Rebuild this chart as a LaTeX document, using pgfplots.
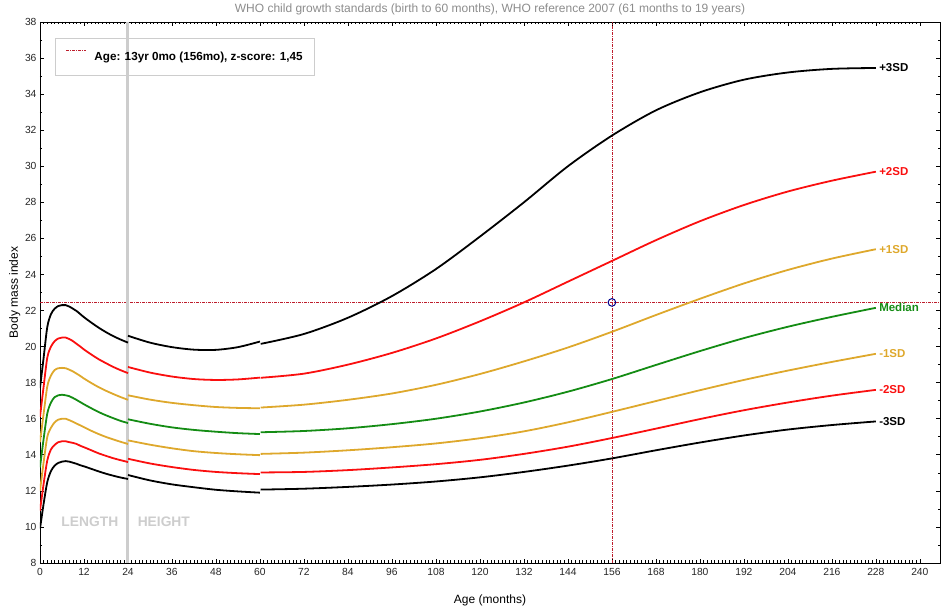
\documentclass[border=0pt]{standalone}
\usepackage{fontspec}
\setmainfont{Liberation Sans}
\usepackage{pgfplots}
\usepackage{pgfplotstable}
\pgfplotsset{compat=1.18}

\definecolor{zgold}{RGB}{222,168,44}
\definecolor{zgreen}{RGB}{20,140,20}
\definecolor{zred}{RGB}{250,15,15}
\definecolor{refred}{RGB}{190,30,45}
\definecolor{lgray}{RGB}{205,205,205}

% WHO BMI-for-age, boys: birth to 24 months (length)
\pgfplotstableread{
m  n3    n2    n1    med   p1    p2    p3
0  9.9   10.9  12.0  13.3  14.7  16.1  17.7
1  11.3  12.4  13.6  14.9  16.3  17.8  19.4
2  12.5  13.7  15.0  16.3  17.8  19.4  21.1
3  13.1  14.3  15.5  16.9  18.4  20.0  21.8
4  13.4  14.55 15.8  17.2  18.7  20.3  22.1
5  13.55 14.7  15.95 17.3  18.8  20.45 22.25
6  13.62 14.75 16.0  17.33 18.82 20.5  22.3
7  13.65 14.75 16.0  17.3  18.8  20.5  22.3
8  13.62 14.7  15.92 17.25 18.72 20.42 22.22
9  13.56 14.66 15.83 17.15 18.62 20.3  22.1
10 13.5  14.6  15.73 17.04 18.5  20.15 21.97
11 13.42 14.5  15.63 16.92 18.37 20.0  21.8
12 13.36 14.42 15.53 16.8  18.23 19.84 21.63
14 13.22 14.25 15.33 16.58 17.98 19.56 21.33
16 13.08 14.08 15.15 16.37 17.75 19.3  21.05
18 12.95 13.94 14.99 16.19 17.55 19.08 20.8
20 12.84 13.81 14.85 16.03 17.37 18.87 20.58
22 12.74 13.7  14.72 15.88 17.2  18.69 20.39
24 12.66 13.6  14.6  15.76 17.05 18.53 20.22
}\segA

% WHO BMI-for-age, boys: 24 to 60 months (height)
\pgfplotstableread{
m  n3    n2    n1    med   p1    p2    p3
24 12.88 13.78 14.8  15.97 17.3  18.87 20.6
30 12.58 13.52 14.56 15.72 17.06 18.56 20.22
36 12.36 13.32 14.36 15.52 16.88 18.34 19.97
42 12.2  13.16 14.2  15.38 16.75 18.2  19.83
48 12.06 13.05 14.1  15.28 16.65 18.15 19.82
54 11.97 12.98 14.03 15.2  16.6  18.18 19.97
60 11.9  12.93 13.98 15.15 16.58 18.28 20.28
}\segB

% WHO reference 2007, boys: 61 months to 19 years
\pgfplotstableread{
m   n3    n2    n1    med   p1    p2    p3
60.2 12.07 13.02 14.05 15.25 16.62 18.27 20.15
72  12.12 13.05 14.12 15.32 16.78 18.5  20.7
84  12.22 13.15 14.25 15.47 17.05 19.0  21.6
96  12.35 13.3  14.42 15.7  17.4  19.65 22.8
108 12.52 13.48 14.63 16.0  17.88 20.45 24.3
120 12.75 13.72 14.92 16.4  18.48 21.4  26.1
132 13.05 14.05 15.3  16.9  19.18 22.45 28.0
144 13.4  14.45 15.8  17.5  19.95 23.6  30.0
156 13.8  14.93 16.38 18.2  20.82 24.75 31.7
168 14.25 15.45 16.98 18.98 21.75 25.9  33.1
180 14.68 15.98 17.58 19.75 22.65 26.95 34.1
192 15.07 16.47 18.15 20.47 23.5  27.85 34.8
204 15.4  16.9  18.67 21.1  24.25 28.6  35.2
216 15.65 17.28 19.15 21.65 24.88 29.2  35.4
228 15.85 17.6  19.6  22.15 25.4  29.7  35.45
}\segC

\begin{document}
\begin{tikzpicture}
\begin{axis}[
    scale only axis,
    width=900pt, height=541pt,
    xmin=0, xmax=245.5, ymin=8, ymax=38,
    xtick={0,12,...,240}, ytick={8,10,...,38},
    minor x tick num=11, minor y tick num=1,
    major tick length=4pt, minor tick length=2.5pt,
    tick style={black, line width=0.6pt},
    axis line style={black, line width=0.8pt},
    /pgf/number format/assume math mode=true,
    ticklabel style={font=\fontsize{10.3}{12}\selectfont, text=black!85},
    xticklabel style={yshift=-2pt},
    title={WHO child growth standards (birth to 60 months), WHO reference 2007 (61 months to 19 years)},
    title style={font=\fontsize{12}{14}\selectfont, text=black!45, at={(0.5,1)}, anchor=south, yshift=0pt, inner sep=1pt},
    xlabel={Age (months)},
    xlabel style={font=\fontsize{12}{14}\selectfont, at={(axis description cs:0.5,0)}, anchor=north, yshift=-28pt},
    ylabel={Body mass index},
    ylabel style={font=\fontsize{12}{14}\selectfont, at={(axis description cs:0,0.5)}, anchor=south, yshift=16pt},
    legend style={at={(axis description cs:0.0167,0.97)}, anchor=north west, draw=lgray, line width=1.2pt, fill=none, font=\bfseries\fontsize{11.7}{14}\selectfont, inner xsep=10pt, inner ysep=11pt, /tikz/every odd column/.append style={column sep=6pt}},
    legend cell align=left,
    legend image code/.code={\draw[#1, line width=0.8pt] (0pt,7pt) -- (20pt,7pt);},
    curve/.style={line width=1.8pt, smooth},
]
% reference lines for the child
\addplot[refred, line width=0.8pt, dash pattern=on 3pt off 1pt on 1pt off 1pt] coordinates {(0,22.45) (245.5,22.45)};
\addlegendentry{Age: 13yr 0mo (156mo), z-score: 1,45}
\addplot[refred, line width=0.8pt, dash pattern=on 3pt off 1pt on 1pt off 1pt] coordinates {(156,8) (156,38)};
% length / height divider
\addplot[lgray, line width=3pt] coordinates {(24,8) (24,38)};

% birth to 24 months
\addplot[curve, black] table[x=m, y=p3] {\segA};
\addplot[curve, zred] table[x=m, y=p2] {\segA};
\addplot[curve, zgold] table[x=m, y=p1] {\segA};
\addplot[curve, zgreen] table[x=m, y=med] {\segA};
\addplot[curve, zgold] table[x=m, y=n1] {\segA};
\addplot[curve, zred] table[x=m, y=n2] {\segA};
\addplot[curve, black] table[x=m, y=n3] {\segA};
% 24 to 60 months
\addplot[curve, black] table[x=m, y=p3] {\segB};
\addplot[curve, zred] table[x=m, y=p2] {\segB};
\addplot[curve, zgold] table[x=m, y=p1] {\segB};
\addplot[curve, zgreen] table[x=m, y=med] {\segB};
\addplot[curve, zgold] table[x=m, y=n1] {\segB};
\addplot[curve, zred] table[x=m, y=n2] {\segB};
\addplot[curve, black] table[x=m, y=n3] {\segB};
% 61 to 228 months
\addplot[curve, black] table[x=m, y=p3] {\segC};
\addplot[curve, zred] table[x=m, y=p2] {\segC};
\addplot[curve, zgold] table[x=m, y=p1] {\segC};
\addplot[curve, zgreen] table[x=m, y=med] {\segC};
\addplot[curve, zgold] table[x=m, y=n1] {\segC};
\addplot[curve, zred] table[x=m, y=n2] {\segC};
\addplot[curve, black] table[x=m, y=n3] {\segC};

\addplot[only marks, mark=o, mark size=3.8pt, mark options={line width=1pt}, draw=blue!55!black] coordinates {(156,22.45)};

\node[anchor=east, text=lgray, font=\bfseries\fontsize{13.8}{15}\selectfont] at (axis cs:22.3,10.3) {LENGTH};
\node[anchor=west, text=lgray, font=\bfseries\fontsize{13.8}{15}\selectfont] at (axis cs:25.7,10.3) {HEIGHT};

\node[anchor=west, inner sep=1pt, font=\bfseries\fontsize{11.5}{13}\selectfont, text=black] at (axis cs:228.6,35.45) {+3SD};
\node[anchor=west, inner sep=1pt, font=\bfseries\fontsize{11.5}{13}\selectfont, text=zred] at (axis cs:228.6,29.7) {+2SD};
\node[anchor=west, inner sep=1pt, font=\bfseries\fontsize{11.5}{13}\selectfont, text=zgold] at (axis cs:228.6,25.4) {+1SD};
\node[anchor=west, inner sep=1pt, font=\bfseries\fontsize{11.5}{13}\selectfont, text=zgreen] at (axis cs:228.6,22.15) {Median};
\node[anchor=west, inner sep=1pt, font=\bfseries\fontsize{11.5}{13}\selectfont, text=zgold] at (axis cs:228.6,19.6) {-1SD};
\node[anchor=west, inner sep=1pt, font=\bfseries\fontsize{11.5}{13}\selectfont, text=zred] at (axis cs:228.6,17.6) {-2SD};
\node[anchor=west, inner sep=1pt, font=\bfseries\fontsize{11.5}{13}\selectfont, text=black] at (axis cs:228.6,15.85) {-3SD};
\end{axis}
\pgfresetboundingbox
\path ([shift={(-40pt,-51pt)}]current axis.south west) rectangle ([shift={(1pt,22pt)}]current axis.north east);
\end{tikzpicture}
\end{document}
